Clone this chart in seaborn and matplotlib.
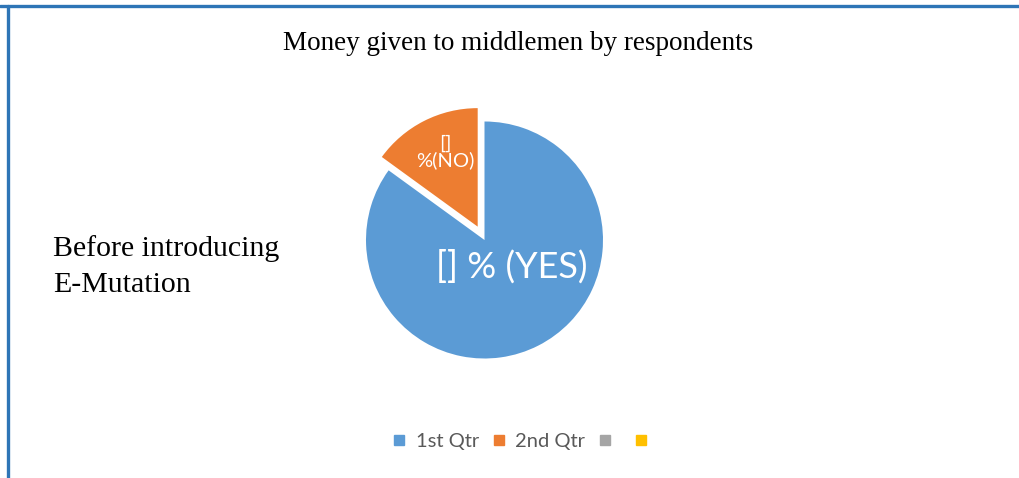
import matplotlib
matplotlib.use("Agg")
import matplotlib.pyplot as plt
from matplotlib.lines import Line2D
import seaborn as sns

# Chart data
categories = ["1st Qtr", "2nd Qtr", "", ""]
values = [85, 15]
slice_labels = ["[] % (YES)", "[]\n%(NO)"]
title = "Money given to middlemen by respondents"
side_note = ["Before introducing", "E-Mutation"]

sns.set_theme(style="white")
palette = ["#5B9BD5", "#ED7D31", "#A5A5A5", "#FFC000"]

W, H = 1020, 478
fig = plt.figure(figsize=(W / 100, H / 100), dpi=100)
fig.patch.set_facecolor("white")

# Axes in pixel units so the pie sits where the layout needs it
ax = fig.add_axes([0, 0, 1, 1])
ax.set_xlim(0, W)
ax.set_ylim(0, H)
ax.set_aspect("equal")
ax.axis("off")

radius = 118.5
center = (484.5, H - 240)
wedges, texts = ax.pie(
    values,
    colors=palette[:2],
    startangle=90,
    counterclock=False,
    explode=[0, 15],          # offset in axis units
    radius=radius,
    center=center,
    labels=None,
    wedgeprops=dict(linewidth=0),
    frame=False,
)
ax.set_xlim(0, W)
ax.set_ylim(0, H)

# Labels inside the slices
ax.text(512, H - 266, slice_labels[0], color="white", fontsize=26,
        family="Lato", ha="center", va="center")
ax.text(445, H - 152, slice_labels[1], color="white", fontsize=14.5,
        family="Lato", ha="center", va="center", linespacing=1.0)

# Title and side note
fig.text(518 / W, 1 - 50 / H, title, family="Liberation Serif",
         fontsize=19.5, ha="center", va="baseline", color="black")
for line, base in zip(side_note, [256, 292]):
    fig.text(53 / W, 1 - base / H, line, family="Liberation Serif",
             fontsize=21.5, ha="left", va="baseline", color="black")

# Legend
handles = [Line2D([], [], marker="s", linestyle="none", markersize=7,
                  markerfacecolor=c, markeredgecolor=c) for c in palette]
leg = fig.legend(handles, categories, loc="center", ncol=4,
                 bbox_to_anchor=(525 / W, 1 - 441 / H), frameon=False,
                 handlelength=0.7, handletextpad=0.45, columnspacing=0.65,
                 prop=dict(family="Lato", size=14.5))
for t in leg.get_texts():
    t.set_color("#595959")

# Frame lines along the top and left edges
fig.add_artist(Line2D([0, 1], [1 - 6 / H, 1 - 6 / H], color="#2E75B6",
                      linewidth=2.4, transform=fig.transFigure))
fig.add_artist(Line2D([8 / W, 8 / W], [0, 1 - 6 / H], color="#2E75B6",
                      linewidth=2.4, transform=fig.transFigure))

fig.savefig("out.png", dpi=100, facecolor="white")
